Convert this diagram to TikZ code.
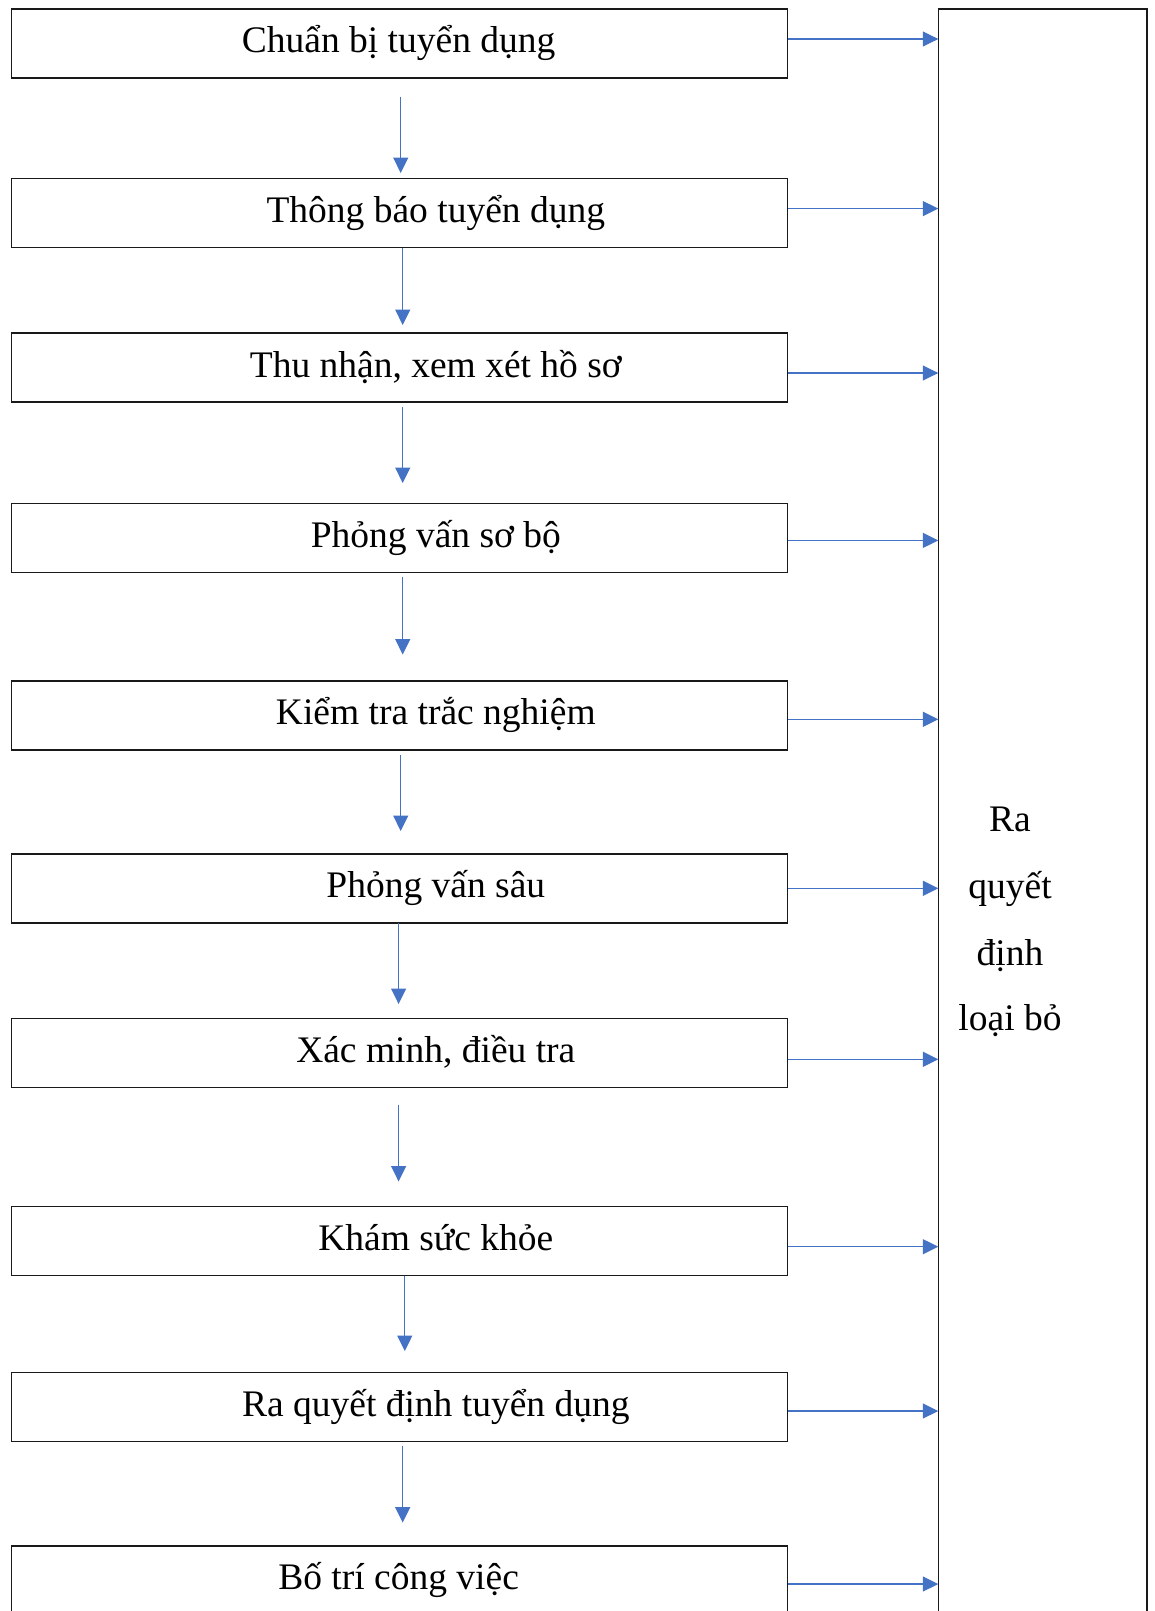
\documentclass[tikz,border=0pt]{standalone}
\usepackage{fontspec}
\setmainfont{Liberation Serif}
\usetikzlibrary{arrows.meta}
\definecolor{arrblue}{HTML}{4472C4}
\tikzset{
  stepbox/.style={draw=black!90, line width=1.5pt, minimum width=776pt, minimum height=69pt, inner sep=0pt},
  lbl/.style={font=\fontsize{37.5}{45}\selectfont, anchor=base, inner sep=0pt},
  arr/.style={draw=arrblue, line width=1.3pt, -{Triangle[length=15.5pt,width=15pt]}}
}
\begin{document}
\begin{tikzpicture}[x=1pt,y=-1pt]
\useasboundingbox (0,0) rectangle (1155,1611);
\fill[white] (0,0) rectangle (1155,1611);
% right tall box
\draw[black!90, line width=1.2pt] (938.5,1630) -- (938.5,9) -- (1147,9) -- (1147,1630);
\node[inner sep=0pt, minimum width=208.5pt, minimum height=1621pt] (R) at (1042.75,819.5) {};
\node[lbl] (rt1) at (1010,831.7) {Ra};
\node[lbl] (rt2) at (1010,898.3) {quyết};
\node[lbl] (rt3) at (1010,965) {định};
\node[lbl] (rt4) at (1010,1030.7) {loại bỏ};
% step boxes
\node[stepbox] (b1) at (399.3,43.5) {};
\node[stepbox] (b2) at (399.3,213) {};
\node[stepbox] (b3) at (399.3,367.5) {};
\node[stepbox] (b4) at (399.3,538) {};
\node[stepbox] (b5) at (399.3,715.3) {};
\node[stepbox] (b6) at (399.3,888.3) {};
\node[stepbox] (b7) at (399.3,1052.8) {};
\node[stepbox] (b8) at (399.3,1240.8) {};
\node[stepbox] (b9) at (399.3,1406.8) {};
\node[stepbox] (b10) at (399.3,1580.3) {};
% labels
\node[lbl] (t1) at (398.6,52.5) {Chuẩn bị tuyển dụng};
\node[lbl] (t2) at (435.8,222.5) {Thông báo tuyển dụng};
\node[lbl] (t3) at (435.8,377) {Thu nhận, xem xét hồ sơ};
\node[lbl] (t4) at (435.8,547.5) {Phỏng vấn sơ bộ};
\node[lbl] (t5) at (435.8,724.7) {Kiểm tra trắc nghiệm};
\node[lbl] (t6) at (435.8,897.7) {Phỏng vấn sâu};
\node[lbl] (t7) at (435.8,1062.2) {Xác minh, điều tra};
\node[lbl] (t8) at (435.8,1250.2) {Khám sức khỏe};
\node[lbl] (t9) at (435.8,1416.2) {Ra quyết định tuyển dụng};
\node[lbl] (t10) at (398.6,1589.7) {Bố trí công việc};
% right arrows
\draw[arr] ([yshift=4.5pt]b1.east) -- ([yshift=4.5pt]b1.east -| R.west);
\draw[arr] ([yshift=4.4pt]b2.east) -- ([yshift=4.4pt]b2.east -| R.west);
\draw[arr] ([yshift=-5.5pt]b3.east) -- ([yshift=-5.5pt]b3.east -| R.west);
\draw[arr] ([yshift=-2.4pt]b4.east) -- ([yshift=-2.4pt]b4.east -| R.west);
\draw[arr] ([yshift=-4pt]b5.east) -- ([yshift=-4pt]b5.east -| R.west);
\draw[arr] (b6.east) -- (b6.east -| R.west);
\draw[arr] ([yshift=-6.5pt]b7.east) -- ([yshift=-6.5pt]b7.east -| R.west);
\draw[arr] ([yshift=-5.9pt]b8.east) -- ([yshift=-5.9pt]b8.east -| R.west);
\draw[arr] ([yshift=-4.2pt]b9.east) -- ([yshift=-4.2pt]b9.east -| R.west);
\draw[arr] ([yshift=-3.7pt]b10.east) -- ([yshift=-3.7pt]b10.east -| R.west);
% down arrows
\coordinate (d1s) at (400.7,96.6);   \coordinate (d1e) at (400.7,173);
\coordinate (d2s) at (402.7,247.5);  \coordinate (d2e) at (402.7,325);
\coordinate (d3s) at (402.7,406.9);  \coordinate (d3e) at (402.7,483);
\coordinate (d4s) at (402.7,577.4);  \coordinate (d4e) at (402.7,654.5);
\coordinate (d5s) at (400.7,755);    \coordinate (d5e) at (400.7,831);
\coordinate (d6s) at (398.6,923);    \coordinate (d6e) at (398.6,1004);
\coordinate (d7s) at (398.6,1104.5); \coordinate (d7e) at (398.6,1181.5);
\coordinate (d8s) at (404.8,1275.5); \coordinate (d8e) at (404.8,1351);
\coordinate (d9s) at (402.7,1445.6); \coordinate (d9e) at (402.7,1522.6);
\foreach \i in {1,...,9} { \draw[arr] (d\i s) -- (d\i e); }
\end{tikzpicture}
\end{document}
